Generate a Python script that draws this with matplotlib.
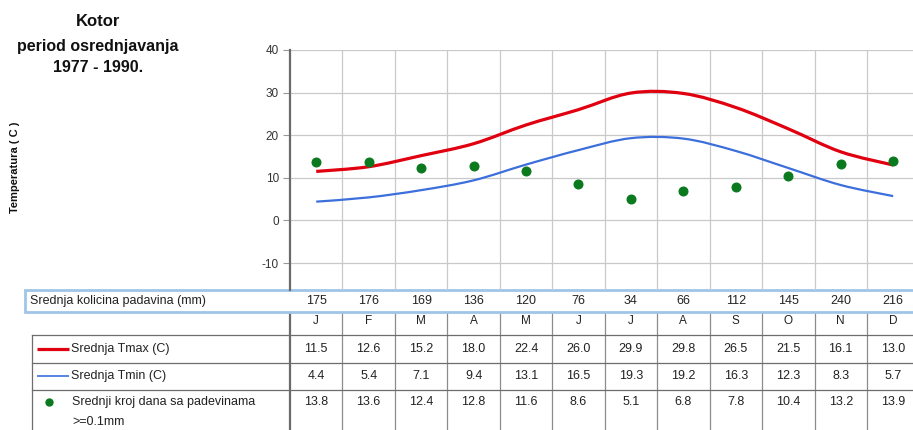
import matplotlib
matplotlib.use("Agg")
import matplotlib.pyplot as plt
from matplotlib.path import Path
from matplotlib.patches import PathPatch, Rectangle
from matplotlib.transforms import blended_transform_factory
import numpy as np

# ---- data -------------------------------------------------------------
months = ["J", "F", "M", "A", "M", "J", "J", "A", "S", "O", "N", "D"]
precip_mm = [175, 176, 169, 136, 120, 76, 34, 66, 112, 145, 240, 216]
tmax = [11.5, 12.6, 15.2, 18.0, 22.4, 26.0, 29.9, 29.8, 26.5, 21.5, 16.1, 13.0]
tmin = [4.4, 5.4, 7.1, 9.4, 13.1, 16.5, 19.3, 19.2, 16.3, 12.3, 8.3, 5.7]
rain_days = [13.8, 13.6, 12.4, 12.8, 11.6, 8.6, 5.1, 6.8, 7.8, 10.4, 13.2, 13.9]
yticks = [40, 30, 20, 10, 0, -10]

title_lines = ["Kotor", "period osrednjavanja", "1977 - 1990."]
ylabel = "Temperatura ( C )"
precip_label = "Srednja kolicina padavina (mm)"
tmax_label = "Srednja Tmax (C)"
tmin_label = "Srednja Tmin (C)"
days_label = ["Srednji kroj dana sa padevinama", ">=0.1mm"]

RED = "#e00010"
BLUE = "#3c6fdc"
GREEN = "#0b7a1e"
GRID = "#c9c9c9"
DARK = "#6a6a6a"
BOXBLUE = "#9fc5e8"
TXT = "#222222"

plt.rcParams["font.family"] = ["Liberation Sans", "DejaVu Sans"]

W, H = 913, 430
fig = plt.figure(figsize=(W / 100, H / 100), dpi=100)

# overlay in pixel coordinates for the table and captions
ov = fig.add_axes([0, 0, 1, 1], zorder=0)
ov.set_xlim(0, W)
ov.set_ylim(H, 0)
ov.axis("off")

# main temperature panel
x_left, col_w = 290, 52.45
y_top, y_bot = 50, 290
px_per_unit = 4.26
ymax = 40
ymin = ymax - (y_bot - y_top) / px_per_unit
ax = fig.add_axes([x_left / W, (H - y_bot) / H, 12 * col_w / W, (y_bot - y_top) / H],
                  zorder=2)
ax.patch.set_alpha(0)
ax.set_xlim(-0.5, 11.5)
ax.set_ylim(ymin, ymax)
ax.set_yticks(yticks)
ax.set_yticklabels([str(v) for v in yticks], fontsize=8.5, color="#333333")
ax.set_xticks([])
for s in ["top", "right", "bottom"]:
    ax.spines[s].set_visible(False)
ax.spines["left"].set_color(DARK)
ax.spines["left"].set_linewidth(1.6)
ax.tick_params(axis="y", length=5, width=0.8, color="#999999", pad=3)
for v in yticks:
    ax.axhline(v, color=GRID, lw=0.9, zorder=0)
for k in range(1, 12):
    ax.axvline(k - 0.5, color=GRID, lw=0.9, zorder=0)


def smooth_path(vals):
    """Cubic Bezier path through the monthly values (spreadsheet-style smoothing)."""
    x = np.arange(len(vals), dtype=float)
    y = np.asarray(vals, dtype=float)
    n = len(y)
    verts = [(x[0], y[0])]
    codes = [Path.MOVETO]
    for i in range(n - 1):
        i0 = max(i - 1, 0)
        i3 = min(i + 2, n - 1)
        c1 = (x[i] + (x[i + 1] - x[i0]) / 6, y[i] + (y[i + 1] - y[i0]) / 6)
        c2 = (x[i + 1] - (x[i3] - x[i]) / 6, y[i + 1] - (y[i3] - y[i]) / 6)
        verts += [c1, c2, (x[i + 1], y[i + 1])]
        codes += [Path.CURVE4] * 3
    return Path(verts, codes)


ax.add_patch(PathPatch(smooth_path(tmax), fill=False, edgecolor=RED, lw=2.3,
                       capstyle="butt", zorder=3))
ax.add_patch(PathPatch(smooth_path(tmin), fill=False, edgecolor=BLUE, lw=1.6,
                       capstyle="butt", zorder=3))
ax.plot(range(12), rain_days, "o", color=GREEN, ms=6.2, zorder=4, ls="none")

# ---- captions ---------------------------------------------------------
for txt, yy, fs in zip(title_lines, [22, 46, 67], [12, 11.5, 11.5]):
    ov.text(98, yy, txt, ha="center", va="center", fontsize=fs, fontweight="bold",
            color="#111111")
ov.text(15, 167, ylabel, rotation=90, ha="center", va="center", fontsize=8,
        fontweight="bold", color="#111111")

# ---- data table below the panel --------------------------------------
bt = blended_transform_factory(ax.transData, ov.transData)
bounds = [k - 0.5 for k in range(13)]

# precipitation strip
ov.add_patch(Rectangle((25, 290), W, 22, facecolor="white", edgecolor=BOXBLUE,
                       lw=2.0, zorder=3))
ov.text(30, 301, precip_label, ha="left", va="center", fontsize=9, color=TXT,
        zorder=4)
for i, v in enumerate(precip_mm):
    ov.text(i, 301, str(v), transform=bt, ha="center", va="center", fontsize=9,
            color=TXT, zorder=4)

# month letters row and grid
for i, m in enumerate(months):
    ov.text(i, 321, m, transform=bt, ha="center", va="center", fontsize=8.5,
            color=TXT)
for b in bounds:
    ov.plot([b, b], [313, H], transform=bt, color="#8c8c8c" if b > -0.5 else DARK,
            lw=0.9 if b > -0.5 else 1.6, zorder=1)
for yy in [335, 363, 390]:
    ov.plot([32, W], [yy, yy], color="#6d6d6d", lw=0.9, zorder=1)
ov.plot([32, 32], [335, H], color="#6d6d6d", lw=0.9, zorder=1)

# legend keys
ov.plot([37, 69], [349, 349], color=RED, lw=2.3, solid_capstyle="butt")
ov.text(71, 349, tmax_label, ha="left", va="center", fontsize=9, color=TXT)
ov.plot([37, 69], [376, 376], color=BLUE, lw=1.2, solid_capstyle="butt")
ov.text(71, 376, tmin_label, ha="left", va="center", fontsize=9, color=TXT)
ov.plot([49], [402], "o", color=GREEN, ms=5)
ov.text(72, 402, days_label[0], ha="left", va="center", fontsize=9, color=TXT)
ov.text(72, 422, days_label[1], ha="left", va="center", fontsize=9, color=TXT)

for row_vals, yy in [(tmax, 349), (tmin, 376), (rain_days, 402)]:
    for i, v in enumerate(row_vals):
        ov.text(i, yy, f"{v:.1f}", transform=bt, ha="center", va="center",
                fontsize=9, color=TXT)

fig.savefig("out.png", dpi=100)
